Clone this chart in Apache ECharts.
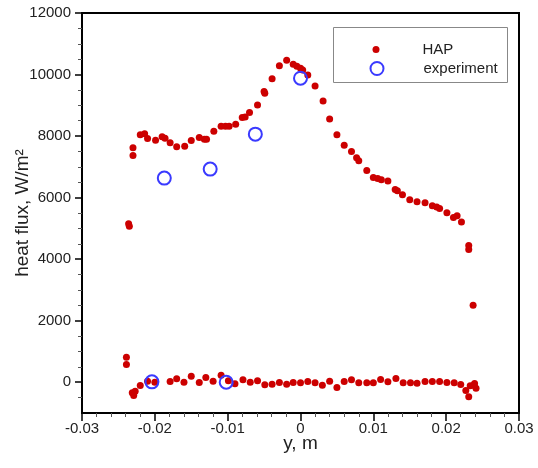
<!DOCTYPE html>
<html>
<head>
<meta charset="utf-8">
<script src="https://cdn.jsdelivr.net/npm/echarts@6/dist/echarts.min.js"></script>
<style>html,body{margin:0;padding:0;background:#fff;}#c{width:538px;height:468px;}</style>
</head>
<body>
<div id="c"></div>
<script>
// HAP simulation points (y in m, heat flux in W/m^2)
var hapX = [-0.0236,-0.0235,-0.0230,-0.0230,-0.0220,-0.0214,-0.0210,-0.0199,-0.0190,-0.0186,-0.0179,-0.0170,-0.0159,-0.0150,-0.0139,-0.0132,-0.0129,-0.0119,-0.0109,-0.0103,-0.0098,-0.0089,-0.0080,-0.0076,-0.0070,-0.0059,-0.0050,-0.0049,-0.0039,-0.0029,-0.0019,-0.0010,-0.0005,0.0000,0.0003,0.0010,0.0020,0.0031,0.0040,0.0050,0.0060,0.0070,0.0077,0.0080,0.0091,0.0100,0.0106,0.0111,0.0120,0.0130,0.0133,0.0140,0.0150,0.0160,0.0171,0.0181,0.0187,0.0191,0.0201,0.0210,0.0215,0.0221,0.0231,0.0231,0.0237,
  -0.0239,-0.0239,-0.0231,-0.0229,-0.0227,-0.0220,-0.0210,-0.0200,-0.0179,-0.0170,-0.0160,-0.0150,-0.0139,-0.0130,-0.0120,-0.0109,-0.0099,-0.0090,-0.0079,-0.0069,-0.0059,-0.0049,-0.0039,-0.0029,-0.0019,-0.0010,0.0000,0.0010,0.0020,0.0030,0.0040,0.0050,0.0060,0.0070,0.0080,0.0091,0.0100,0.0110,0.0120,0.0131,0.0141,0.0151,0.0160,0.0171,0.0181,0.0191,0.0201,0.0211,0.0220,0.0227,0.0231,0.0233,0.0238,0.0239,0.0241];
var hapY = [5150,5070,7618,7368,8040,8072,7920,7868,7975,7932,7780,7650,7673,7855,7952,7900,7900,8160,8322,8322,8322,8387,8600,8623,8763,9013,9445,9393,9867,10289,10464,10334,10269,10204,10149,9987,9630,9143,8559,8040,7705,7498,7293,7196,6881,6654,6621,6579,6537,6264,6222,6092,5930,5865,5833,5735,5693,5648,5508,5356,5411,5206,4447,4317,2499,
  811,574,-344,-430,-292,-107,32,0,23,110,0,195,-10,152,32,227,45,-52,78,0,45,-84,-65,-10,-65,-10,-20,23,-20,-97,32,-172,23,78,-20,-20,-20,88,13,120,-20,-20,-32,23,23,23,-10,-20,-75,-269,-474,-117,-97,-42,-195];
// Experiment points
var expX = [-0.0204,-0.0187,-0.0124,-0.0102,-0.0062,0.0000];
var expY = [13,6634,6926,0,8062,9880];
// Axis ticks
var xTickLabels = [-0.03,-0.02,-0.01,0,0.01,0.02,0.03];
var yMajorTicks = [0,2000,4000,6000,8000,10000,12000];
var yMinorTicks = [-500,500,1000,1500,2500,3000,3500,4500,5000,5500,6500,7000,7500,8500,9000,9500,10500,11000,11500];
var seriesNames = ['HAP','experiment'];

function zip(a,b){ var r=[]; for(var i=0;i<a.length;i++) r.push([a[i],b[i]]); return r; }

var font = "'Liberation Sans', Arial, sans-serif";
var textColor = '#222';
var chart = echarts.init(document.getElementById('c'));
chart.setOption({
  animation: false,
  backgroundColor: '#fff',
  grid: { left: 82, right: 19, top: 13, bottom: 55, show: true, borderColor: '#000', borderWidth: 2,
          containLabel: false, outerBoundsMode: 'none' },
  xAxis: {
    type: 'value', min: -0.03, max: 0.03, interval: 0.01,
    name: 'y, m', nameLocation: 'middle', nameGap: 21, nameMoveOverlap: false,
    nameTextStyle: { fontFamily: font, fontSize: 19, color: textColor },
    axisLine: { show: true, onZero: false, lineStyle: { color: '#000', width: 2 } },
    axisTick: { show: true, inside: false, length: 8, lineStyle: { color: '#000', width: 1.5 } },
    minorTick: { show: true, splitNumber: 5, length: 4, lineStyle: { color: '#555', width: 1 } },
    splitLine: { show: false },
    axisLabel: { margin: 8, fontFamily: font, fontSize: 15, color: textColor,
      formatter: function(v){ var i = xTickLabels.indexOf(Math.round(v*100)/100); return i >= 0 ? String(xTickLabels[i]) : ''; } }
  },
  yAxis: [{
    type: 'value', min: -1000, max: 12000,
    name: 'heat flux, W/m²', nameLocation: 'middle', nameGap: 50, nameRotate: 90, nameMoveOverlap: false,
    nameTextStyle: { fontFamily: font, fontSize: 19, color: textColor },
    axisLine: { show: true, onZero: false, lineStyle: { color: '#000', width: 2 } },
    axisTick: { show: true, inside: false, length: 7, customValues: yMajorTicks, lineStyle: { color: '#000', width: 1.5 } },
    splitLine: { show: false },
    axisLabel: { margin: 11, fontFamily: font, fontSize: 15, color: textColor, customValues: yMajorTicks,
      formatter: function(v){ return String(v); } }
  }, {
    type: 'value', min: -1000, max: 12000, position: 'left', offset: 0,
    axisLine: { show: false, onZero: false },
    axisTick: { show: true, inside: false, length: 4, customValues: yMinorTicks, lineStyle: { color: '#555', width: 1 } },
    axisLabel: { show: false },
    splitLine: { show: false }
  }],
  legend: [{
    data: [seriesNames[0]], orient: 'vertical', left: 372.5, top: 42, padding: 0,
    itemWidth: 7, itemHeight: 7,
    textStyle: { fontFamily: font, fontSize: 15, color: textColor, padding: [0, 0, 0, 38] }
  }, {
    data: [seriesNames[1]], orient: 'vertical', left: 369.5, top: 61, padding: 0,
    itemWidth: 13, itemHeight: 13,
    textStyle: { fontFamily: font, fontSize: 15, color: textColor, padding: [0, 0, 0, 35] }
  }],
  graphic: [{
    type: 'rect', left: 333, top: 27, z: 0,
    shape: { width: 174, height: 55 },
    style: { fill: '#fff', stroke: '#888', lineWidth: 1 }
  }],
  series: [{
    name: seriesNames[0], type: 'scatter', data: zip(hapX, hapY),
    symbol: 'circle', symbolSize: 7, itemStyle: { color: '#cc0000', opacity: 1 }, z: 2
  }, {
    name: seriesNames[1], type: 'scatter', data: zip(expX, expY),
    symbol: 'circle', symbolSize: 13,
    itemStyle: { color: 'rgba(0,0,0,0)', borderColor: '#3a3aff', borderWidth: 2, opacity: 1 }, z: 3
  }]
});
</script>
</body>
</html>
